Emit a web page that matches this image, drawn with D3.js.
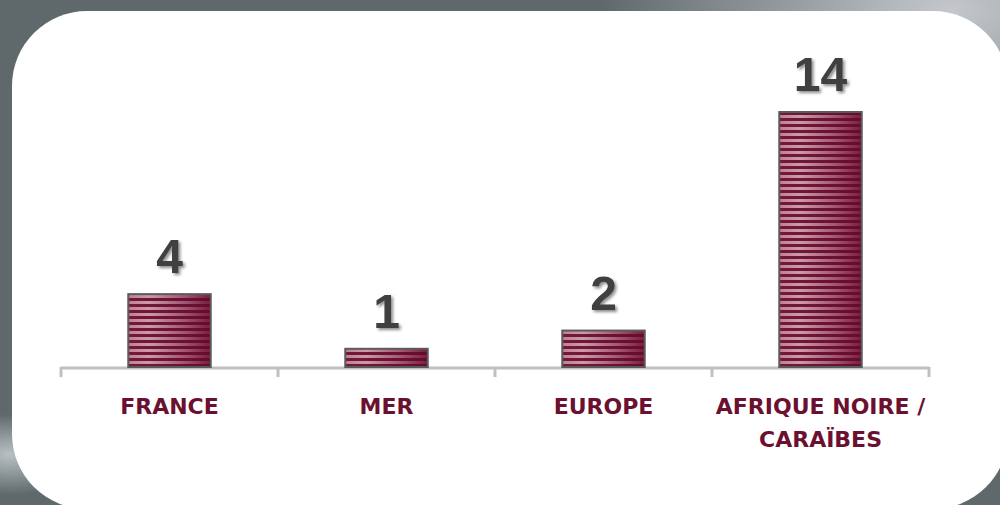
<!DOCTYPE html>
<html><head><meta charset="utf-8">
<script src="https://cdn.jsdelivr.net/npm/d3@7/dist/d3.min.js"></script>
<style>html,body{margin:0;padding:0;background:#5d6668;}svg{display:block;}</style>
</head><body>
<svg id="chart" width="1000" height="505"></svg>
<script>
const categories = ["FRANCE", "MER", "EUROPE", "AFRIQUE NOIRE / CARAÏBES"];
const categoryLines = [["FRANCE"], ["MER"], ["EUROPE"], ["AFRIQUE NOIRE /", "CARAÏBES"]];
const values = [4, 1, 2, 14];
const valueLabels = ["4", "1", "2", "14"];

const svg = d3.select("#chart");
const W = 1000, H = 505;
const defs = svg.append("defs");

// background
const bg = defs.append("radialGradient").attr("id", "bgTR").attr("cx", 0.95).attr("cy", 0.02).attr("r", 0.35);
bg.append("stop").attr("offset", "0%").attr("stop-color", "#c4c8cc");
bg.append("stop").attr("offset", "100%").attr("stop-color", "#c4c8cc").attr("stop-opacity", 0);
const bg2 = defs.append("radialGradient").attr("id", "bgBL").attr("cx", 0.01).attr("cy", 0.9).attr("r", 0.08);
bg2.append("stop").attr("offset", "0%").attr("stop-color", "#b8c0c4");
bg2.append("stop").attr("offset", "100%").attr("stop-color", "#b8c0c4").attr("stop-opacity", 0);
svg.append("rect").attr("width", W).attr("height", H).attr("fill", "#5f696b");
svg.append("rect").attr("width", W).attr("height", H).attr("fill", "url(#bgTR)");
svg.append("rect").attr("width", W).attr("height", H).attr("fill", "url(#bgBL)");

// panel
svg.append("rect").attr("x", 12).attr("y", 11).attr("width", 996).attr("height", 498)
  .attr("rx", 75).attr("ry", 75).attr("fill", "#ffffff");

// scales
const x = d3.scaleBand().domain(categories).range([61, 929]).paddingInner(0.62).paddingOuter(0.31);
const y = d3.scaleLinear().domain([0, 14]).range([367, 112]);
const base = y(0);

// stripes
const pat = defs.append("pattern").attr("id", "stripePat").attr("patternUnits", "userSpaceOnUse")
  .attr("x", 0).attr("y", base).attr("width", 10).attr("height", 6);
pat.append("rect").attr("x", 0).attr("y", 0).attr("width", 10).attr("height", 3).attr("fill", "#fff");
pat.append("rect").attr("x", 0).attr("y", 3).attr("width", 10).attr("height", 3).attr("fill", "#000");
const mask = defs.append("mask").attr("id", "stripeMask").attr("maskUnits", "userSpaceOnUse")
  .attr("x", 0).attr("y", 0).attr("width", W).attr("height", H);
mask.append("rect").attr("width", W).attr("height", H).attr("fill", "url(#stripePat)");

const lg = defs.append("linearGradient").attr("id", "lightGrad").attr("x1", 0).attr("x2", 1).attr("y1", 0).attr("y2", 0);
lg.append("stop").attr("offset", "0%").attr("stop-color", "#bf7f96");
lg.append("stop").attr("offset", "25%").attr("stop-color", "#cc9aaa");
lg.append("stop").attr("offset", "70%").attr("stop-color", "#a05270");
lg.append("stop").attr("offset", "100%").attr("stop-color", "#7a1c3e");
const dg = defs.append("linearGradient").attr("id", "darkGrad").attr("x1", 0).attr("x2", 1).attr("y1", 0).attr("y2", 0);
dg.append("stop").attr("offset", "0%").attr("stop-color", "#74193a");
dg.append("stop").attr("offset", "100%").attr("stop-color", "#650c2c");

const shadow = defs.append("filter").attr("id", "shadow").attr("x", "-20%").attr("y", "-20%").attr("width", "150%").attr("height", "150%");
shadow.append("feDropShadow").attr("dx", 2).attr("dy", 2).attr("stdDeviation", 1.5)
  .attr("flood-color", "#000").attr("flood-opacity", 0.45);

// axis
const step = x.step();
const left = x.range()[0];
const tickPos = d3.range(categories.length + 1).map(i => left + i * step);
svg.append("line").attr("x1", tickPos[0]).attr("x2", tickPos[tickPos.length - 1])
  .attr("y1", base + 1).attr("y2", base + 1).attr("stroke", "#c0c0c0").attr("stroke-width", 3);
svg.selectAll(".tick").data(tickPos).join("line").attr("class", "tick")
  .attr("x1", d => d).attr("x2", d => d).attr("y1", base).attr("y2", base + 10)
  .attr("stroke", "#c0c0c0").attr("stroke-width", 3);

// bars
const data = categories.map((c, i) => ({ c, v: values[i], label: valueLabels[i], lines: categoryLines[i] }));
const g = svg.selectAll(".bar").data(data).join("g").attr("class", "bar");
g.append("rect").attr("x", d => x(d.c)).attr("y", d => y(d.v)).attr("width", x.bandwidth())
  .attr("height", d => base - y(d.v)).attr("fill", "url(#darkGrad)");
g.append("rect").attr("x", d => x(d.c)).attr("y", d => y(d.v)).attr("width", x.bandwidth())
  .attr("height", d => base - y(d.v)).attr("fill", "url(#lightGrad)").attr("mask", "url(#stripeMask)");
g.append("rect").attr("x", d => x(d.c)).attr("y", d => y(d.v)).attr("width", x.bandwidth())
  .attr("height", d => base - y(d.v)).attr("fill", "none").attr("stroke", "#5a5a5a").attr("stroke-width", 2);

// value labels
svg.selectAll(".val").data(data).join("text").attr("class", "val")
  .attr("x", d => x(d.c) + x.bandwidth() / 2).attr("y", d => y(d.v) - 21)
  .attr("text-anchor", "middle").attr("font-family", "Liberation Sans, Arial, sans-serif")
  .attr("font-weight", "bold").attr("font-size", 48).attr("fill", "#404040")
  .attr("filter", "url(#shadow)").text(d => d.label);

// category labels
const cl = svg.selectAll(".cat").data(data).join("text").attr("class", "cat")
  .attr("x", d => x(d.c) + x.bandwidth() / 2).attr("y", 414)
  .attr("text-anchor", "middle").attr("font-family", "DejaVu Sans, sans-serif")
  .attr("font-weight", "bold").attr("font-size", 22).attr("fill", "#6b1030");
cl.selectAll("tspan").data(d => d.lines.map((t, i) => ({ t, i, cx: x(d.c) + x.bandwidth() / 2 })))
  .join("tspan").attr("x", d => d.cx).attr("dy", d => d.i === 0 ? 0 : 33).text(d => d.t);
</script>
</body></html>
